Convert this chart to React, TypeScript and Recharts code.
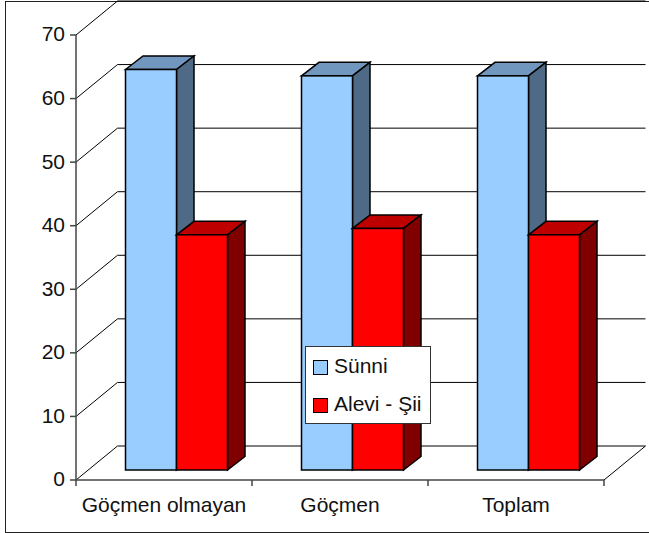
import React from 'react';
import { BarChart, Bar, XAxis, YAxis, CartesianGrid, Legend } from 'recharts';

const categories = ['Göçmen olmayan', 'Göçmen', 'Toplam'];
const sunni = [63, 62, 62];
const aleviSii = [37, 38, 37];
const yTicks = [0, 10, 20, 30, 40, 50, 60, 70];
const SUNNI_NAME = 'Sünni';
const ALEVI_NAME = 'Alevi - Şii';

const rows = categories.map((name, i) => ({ name, sunni: sunni[i], alevi: aleviSii[i] }));

const FONT = '"Liberation Sans", Arial, sans-serif';
const WALL_DX = 41.5;
const WALL_DY = 34;
const BAR_OFF_X = 12;
const BAR_OFF_Y = 10;
const BAR_DX = 17.5;
const BAR_DY = 13.5;
const AXIS = '#444';

const pts = (a: number[][]) => a.map((p) => p.join(',')).join(' ');

const bar3D = (front: string, top: string, side: string) => (props: any) => {
  const x = props.x + BAR_OFF_X;
  const y = props.y - BAR_OFF_Y;
  const w = props.width;
  const h = props.height;
  const common = { stroke: '#000', strokeWidth: 1.5, strokeLinejoin: 'miter' as const };
  return (
    <g>
      <polygon points={pts([[x, y], [x + BAR_DX, y - BAR_DY], [x + w + BAR_DX, y - BAR_DY], [x + w, y]])} fill={top} {...common} />
      <polygon points={pts([[x + w, y], [x + w + BAR_DX, y - BAR_DY], [x + w + BAR_DX, y + h - BAR_DY], [x + w, y + h]])} fill={side} {...common} />
      <rect x={x} y={y} width={w} height={h} fill={front} {...common} />
    </g>
  );
};

const gridLine = (p: any) => {
  const { x1, x2, y1 } = p;
  const isFloor = Math.abs(y1 - 480) < 1;
  return (
    <g key={p.key}>
      <polyline points={pts([[x1, y1], [x1 + WALL_DX, y1 - WALL_DY], [x2 + WALL_DX, y1 - WALL_DY]])} fill="none" stroke="#000" strokeWidth={1} />
      {isFloor && <line x1={x2} y1={y1} x2={x2 + WALL_DX} y2={y1 - WALL_DY} stroke="#000" strokeWidth={1} />}
    </g>
  );
};

const XTick = (p: any) => {
  const band = p.width / p.visibleTicksCount;
  const last = p.index === p.visibleTicksCount - 1;
  const left = p.x - band / 2;
  return (
    <g>
      <line x1={left} x2={left} y1={p.y} y2={p.y + 6} stroke={AXIS} strokeWidth={1.5} />
      {last && <line x1={left + band} x2={left + band} y1={p.y} y2={p.y + 6} stroke={AXIS} strokeWidth={1.5} />}
      <text x={p.x} y={p.y + 32} textAnchor="middle" fontFamily={FONT} fontSize={21} fill="#111">
        {p.payload.value}
      </text>
    </g>
  );
};

const LegendBox = (p: any) => (
  <div style={{ width: 126, height: 78, boxSizing: 'border-box', background: '#fff', border: '1px solid #333', position: 'relative', fontFamily: FONT, fontSize: 21, color: '#111' }}>
    {p.payload.map((item: any, i: number) => (
      <div key={item.value} style={{ position: 'absolute', left: 7, top: 13 + i * 38, height: 16, lineHeight: '16px', whiteSpace: 'nowrap' }}>
        <span style={{ position: 'absolute', left: 0, top: 0, width: 15, height: 15, boxSizing: 'border-box', border: '1.5px solid #000', background: item.color }} />
        <span style={{ position: 'absolute', left: 21, top: -2 }}>{item.value}</span>
      </div>
    ))}
  </div>
);

export default function App() {
  return (
    <div style={{ position: 'absolute', left: 0, top: 0, width: 649, height: 533, overflow: 'hidden', background: '#fff' }}>
      <div style={{ position: 'absolute', left: 5, top: 1, width: 700, height: 530, border: '1.5px solid #222' }} />
      <BarChart
        width={649}
        height={533}
        data={rows}
        margin={{ top: 35, right: 45, bottom: 13, left: 0 }}
        barCategoryGap={37.5}
        barGap={0}
        style={{ position: 'absolute', left: 0, top: 0 }}
      >
        <CartesianGrid vertical={false} horizontal={gridLine} />
        <XAxis dataKey="name" height={40} tickLine={false} tickSize={0} tickMargin={0} interval={0} axisLine={{ stroke: AXIS, strokeWidth: 1.5 }} tick={<XTick />} />
        <YAxis
          width={76}
          domain={[0, 70]}
          ticks={yTicks}
          interval={0}
          tickSize={6}
          tickMargin={5}
          axisLine={{ stroke: AXIS, strokeWidth: 1.5 }}
          tickLine={{ stroke: AXIS, strokeWidth: 1.5 }}
          tick={{ fontFamily: FONT, fontSize: 21, fill: '#111', dy: -1 }}
        />
        <Legend
          layout="horizontal"
          verticalAlign="middle"
          align="center"
          itemSorter={null}
          content={<LegendBox />}
          wrapperStyle={{ left: 305, top: 346, width: 126, height: 78, bottom: 'auto', right: 'auto' }}
        />
        <Bar dataKey="sunni" name={SUNNI_NAME} fill="#99ccff" isAnimationActive={false} shape={bar3D('#99ccff', '#7297bf', '#4f6a87')} />
        <Bar dataKey="alevi" name={ALEVI_NAME} fill="#ff0000" isAnimationActive={false} shape={bar3D('#ff0000', '#bf0000', '#800000')} />
      </BarChart>
    </div>
  );
}
